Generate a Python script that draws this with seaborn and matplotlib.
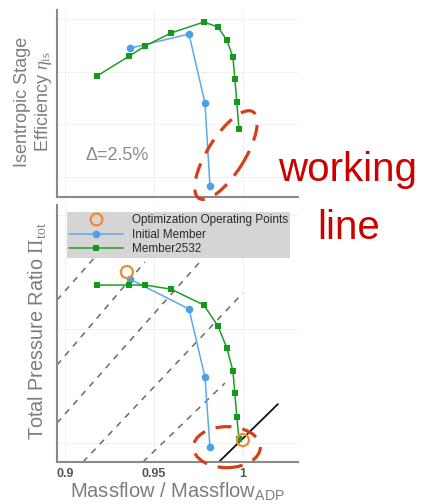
import matplotlib
matplotlib.use("Agg")
import matplotlib.pyplot as plt
import seaborn as sns
from matplotlib.lines import Line2D
from matplotlib.patches import Ellipse
from matplotlib.transforms import ScaledTranslation

# data
mass_init = [0.9365, 0.9697, 0.9787, 0.9815]
eta_init = [0.8862, 0.8929, 0.8602, 0.8208]
pr_init = [1.2719, 1.2588, 1.2289, 1.1982]

mass_best = [0.918, 0.936, 0.945, 0.9596, 0.9781, 0.986, 0.991, 0.9944, 0.9955, 0.9966, 0.9978]
eta_best = [0.873, 0.8824, 0.8872, 0.8934, 0.8986, 0.8962, 0.890, 0.882, 0.8715, 0.8606, 0.8478]
pr_best = [1.2693, 1.2693, 1.2693, 1.2675, 1.2605, 1.2513, 1.2417, 1.2316, 1.2219, 1.2114, 1.2018]

mass_op = [0.9348, 1.0]
pr_op = [1.275, 1.2013]

# throttle lines (x0, y0, x1, y1)
throttle_lines = [
    (0.8955, 1.2627, 0.9169, 1.2816),
    (0.8955, 1.2342, 0.9449, 1.2794),
    (0.8955, 1.2088, 0.9758, 1.2794),
    (0.9101, 1.1917, 1.0000, 1.2658),
    (0.9438, 1.1917, 0.9899, 1.2263),
]
working_line = (0.9865, 1.1917, 1.0197, 1.2171)

eta_ticks = [0.825, 0.85, 0.875, 0.9]
pr_ticks = [1.20, 1.25, 1.30]
x_ticks = [0.9, 0.95, 1.0]
x_ticklabels = ["0.9", "0.95", "1"]

BLUE = "#5da8ec"
GREEN = "#1f9e26"
ORANGE = "#f08a30"
RED = "#d2401a"
GREY = "#8a8a8a"
LABEL = "#7d7d7d"

sns.set_style("white")
plt.rcParams["font.family"] = ["Liberation Sans", "DejaVu Sans"]
plt.rcParams["mathtext.fontset"] = "custom"
plt.rcParams["mathtext.rm"] = "Liberation Serif"
plt.rcParams["mathtext.it"] = "Liberation Serif:italic"
plt.rcParams["mathtext.sf"] = "Liberation Sans"

W, H = 423, 504
fig = plt.figure(figsize=(W / 100, H / 100), dpi=100)
ax1 = fig.add_axes([57 / W, 1 - 197 / H, 241 / W, 187 / H])
ax2 = fig.add_axes([57 / W, 1 - 462 / H, 241 / W, 257 / H])

for ax in (ax1, ax2):
    ax.set_xlim(0.8955, 1.031)
    for s in ("top", "right"):
        ax.spines[s].set_visible(False)
    for s in ("left", "bottom"):
        ax.spines[s].set_color(GREY)
        ax.spines[s].set_linewidth(1.5)
    ax.tick_params(axis="y", direction="in", length=4.5, width=1.2, color="#777777", labelleft=False)
    ax.tick_params(axis="x", length=0)
    ax.grid(True, color="#f1f1f1", linewidth=0.8)
    ax.set_xticks(x_ticks)

# top: efficiency
ax1.set_ylim(0.8156, 0.9043)
ax1.set_yticks(eta_ticks)
ax1.tick_params(axis="x", labelbottom=False)
sns.lineplot(x=mass_init, y=eta_init, sort=False, estimator=None, ax=ax1, color=BLUE,
             linewidth=1.1, marker="o", markersize=5.5, markeredgewidth=0, markerfacecolor="#4d9fea")
sns.lineplot(x=mass_best, y=eta_best, sort=False, estimator=None, ax=ax1, color=GREEN,
             linewidth=1.1, marker="s", markersize=5, markeredgewidth=0, markerfacecolor="#129a1a")
ax1.text(0.9292, 0.8355, "Δ=2.5%", ha="center", va="center", fontsize=13, color="#8c8c8c")

# bottom: pressure ratio
ax2.set_ylim(1.1917, 1.3044)
ax2.set_yticks(pr_ticks)
for x0, y0, x1, y1 in throttle_lines:
    ax2.plot([x0, x1], [y0, y1], color="#6a6a6a", linewidth=1.1, linestyle=(0, (4, 4)), zorder=1)
ax2.plot(working_line[0::2], working_line[1::2], color="#111111", linewidth=1.3, zorder=2)
sns.lineplot(x=mass_init, y=pr_init, sort=False, estimator=None, ax=ax2, color=BLUE,
             linewidth=1.1, marker="o", markersize=5.5, markeredgewidth=0, markerfacecolor="#4d9fea")
sns.lineplot(x=mass_best, y=pr_best, sort=False, estimator=None, ax=ax2, color=GREEN,
             linewidth=1.1, marker="s", markersize=5, markeredgewidth=0, markerfacecolor="#129a1a")
ax2.scatter(mass_op, pr_op, s=75, facecolors="none", edgecolors=ORANGE, linewidths=1.6, zorder=4)
ax2.set_xticklabels(x_ticklabels, fontsize=9, fontweight="bold", color="#555555")
ax2.tick_params(axis="x", pad=4)
ax2.set_xlabel(r"Massflow / Massflow$_{\mathsf{ADP}}$", fontsize=14.5, color=LABEL, labelpad=0)

# y labels as rotated figure text
fig.text(34 / W, 1 - 102 / H, "Isentropic Stage\n" + r"Efficiency $\eta_{\mathrm{is}}$",
         rotation=90, ha="center", va="center", fontsize=13, color=LABEL, linespacing=1.1,
         multialignment="center")
fig.text(37 / W, 1 - 331 / H, r"Total Pressure Ratio $\Pi_{\mathrm{tot}}$",
         rotation=90, ha="center", va="center", fontsize=14.3, color=LABEL)

handles = [
    Line2D([], [], linestyle="none", marker="o", markersize=8.5, markerfacecolor="none",
           markeredgecolor=ORANGE, markeredgewidth=1.6),
    Line2D([], [], color=BLUE, linewidth=1.1, marker="o", markersize=5.5,
           markeredgewidth=0, markerfacecolor="#4d9fea"),
    Line2D([], [], color=GREEN, linewidth=1.1, marker="s", markersize=5,
           markeredgewidth=0, markerfacecolor="#129a1a"),
]
labels = ["Optimization Operating Points", "Initial Member", "Member2532"]
leg = ax2.legend(handles, labels, loc="upper left", bbox_to_anchor=(0.04, 0.8, 0.925, 0.173),
                 mode="expand", fontsize=8.5, frameon=True, fancybox=False, framealpha=1,
                 facecolor="#d5d5d5", edgecolor="none", borderpad=0.2, borderaxespad=0,
                 handlelength=4.6, handletextpad=0.7, labelspacing=0.22)
for t in leg.get_texts():
    t.set_color("#2a2a2a")

# red dashed highlight ellipses
ell_top = Ellipse((0, 0), 1.02, 0.37, angle=58, fill=False, edgecolor=RED, linewidth=2.3,
                  linestyle=(0, (5, 3.5)), clip_on=False, zorder=6,
                  transform=fig.dpi_scale_trans + ScaledTranslation(0.9905, 0.8355, ax1.transData))
fig.add_artist(ell_top)
ell_bot = Ellipse((0, 0), 0.67, 0.41, angle=0, fill=False, edgecolor=RED, linewidth=2.3,
                  linestyle=(0, (5, 3.5)), clip_on=False, zorder=6,
                  transform=fig.dpi_scale_trans + ScaledTranslation(0.991, 1.1982, ax2.transData))
fig.add_artist(ell_bot)

fig.text(348 / W, 1 - 170 / H, "working", ha="center", va="center", fontsize=29, color="#cc0000")
fig.text(349 / W, 1 - 228 / H, "line", ha="center", va="center", fontsize=29, color="#cc0000")

fig.savefig("out.png", dpi=100)
